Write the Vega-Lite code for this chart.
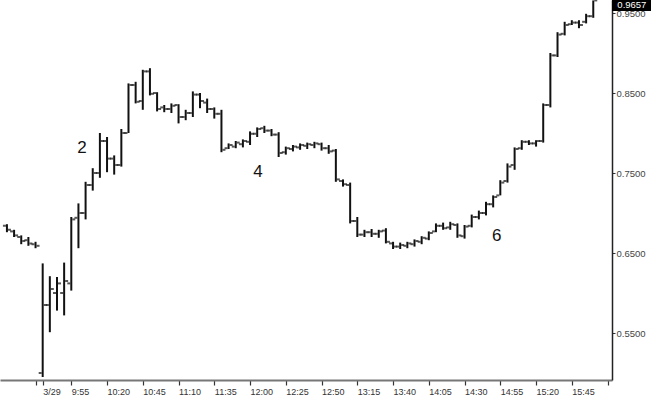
{
  "$schema": "https://vega.github.io/schema/vega-lite/v6.json",
  "width": 612,
  "height": 380,
  "autosize": {"type": "none"},
  "padding": {"left": 0, "top": 0, "right": 39, "bottom": 24},
  "background": "white",
  "config": {"view": {"stroke": null}, "font": "Liberation Sans"},
  "datasets": {
    "bars": [
      {"i": -5, "o": 0.684, "h": 0.686, "l": 0.676, "c": 0.679},
      {"i": -4, "o": 0.677, "h": 0.679, "l": 0.670, "c": 0.672},
      {"i": -3, "o": 0.670, "h": 0.672, "l": 0.661, "c": 0.665},
      {"i": -2, "o": 0.666, "h": 0.670, "l": 0.659, "c": 0.662},
      {"i": -1, "o": 0.661, "h": 0.664, "l": 0.656, "c": 0.659},
      {"i": 0, "o": 0.500, "h": 0.637, "l": 0.495, "c": 0.585},
      {"i": 1, "o": 0.585, "h": 0.621, "l": 0.551, "c": 0.605},
      {"i": 2, "o": 0.600, "h": 0.620, "l": 0.578, "c": 0.612},
      {"i": 3, "o": 0.600, "h": 0.638, "l": 0.572, "c": 0.615},
      {"i": 4, "o": 0.612, "h": 0.695, "l": 0.603, "c": 0.692},
      {"i": 5, "o": 0.694, "h": 0.712, "l": 0.656, "c": 0.700},
      {"i": 6, "o": 0.700, "h": 0.739, "l": 0.692, "c": 0.735},
      {"i": 7, "o": 0.735, "h": 0.756, "l": 0.728, "c": 0.750},
      {"i": 8, "o": 0.750, "h": 0.800, "l": 0.744, "c": 0.790},
      {"i": 9, "o": 0.790, "h": 0.795, "l": 0.751, "c": 0.768},
      {"i": 10, "o": 0.768, "h": 0.772, "l": 0.748, "c": 0.760},
      {"i": 11, "o": 0.760, "h": 0.805, "l": 0.758, "c": 0.800},
      {"i": 12, "o": 0.800, "h": 0.862, "l": 0.800, "c": 0.860},
      {"i": 13, "o": 0.860, "h": 0.864, "l": 0.837, "c": 0.839},
      {"i": 14, "o": 0.840, "h": 0.879, "l": 0.829, "c": 0.877},
      {"i": 15, "o": 0.877, "h": 0.881, "l": 0.847, "c": 0.849},
      {"i": 16, "o": 0.850, "h": 0.851, "l": 0.827, "c": 0.830},
      {"i": 17, "o": 0.832, "h": 0.835, "l": 0.826, "c": 0.830},
      {"i": 18, "o": 0.830, "h": 0.837, "l": 0.825, "c": 0.834},
      {"i": 19, "o": 0.835, "h": 0.836, "l": 0.812, "c": 0.820},
      {"i": 20, "o": 0.820, "h": 0.829, "l": 0.816, "c": 0.825},
      {"i": 21, "o": 0.825, "h": 0.852, "l": 0.820, "c": 0.848},
      {"i": 22, "o": 0.848, "h": 0.850, "l": 0.831, "c": 0.840},
      {"i": 23, "o": 0.838, "h": 0.843, "l": 0.825, "c": 0.830},
      {"i": 24, "o": 0.830, "h": 0.832, "l": 0.818, "c": 0.824},
      {"i": 25, "o": 0.824, "h": 0.829, "l": 0.776, "c": 0.779},
      {"i": 26, "o": 0.781, "h": 0.787, "l": 0.780, "c": 0.785},
      {"i": 27, "o": 0.783, "h": 0.790, "l": 0.781, "c": 0.788},
      {"i": 28, "o": 0.786, "h": 0.792, "l": 0.782, "c": 0.790},
      {"i": 29, "o": 0.789, "h": 0.802, "l": 0.785, "c": 0.799},
      {"i": 30, "o": 0.799, "h": 0.807, "l": 0.795, "c": 0.805},
      {"i": 31, "o": 0.806, "h": 0.809, "l": 0.800, "c": 0.803},
      {"i": 32, "o": 0.803, "h": 0.805, "l": 0.796, "c": 0.798},
      {"i": 33, "o": 0.798, "h": 0.801, "l": 0.770, "c": 0.775},
      {"i": 34, "o": 0.776, "h": 0.783, "l": 0.773, "c": 0.781},
      {"i": 35, "o": 0.780, "h": 0.785, "l": 0.777, "c": 0.783},
      {"i": 36, "o": 0.782, "h": 0.787, "l": 0.779, "c": 0.785},
      {"i": 37, "o": 0.784, "h": 0.788, "l": 0.780, "c": 0.786},
      {"i": 38, "o": 0.785, "h": 0.789, "l": 0.781, "c": 0.787},
      {"i": 39, "o": 0.786, "h": 0.788, "l": 0.778, "c": 0.781},
      {"i": 40, "o": 0.781, "h": 0.785, "l": 0.774, "c": 0.777},
      {"i": 41, "o": 0.778, "h": 0.780, "l": 0.739, "c": 0.742},
      {"i": 42, "o": 0.740, "h": 0.742, "l": 0.733, "c": 0.736},
      {"i": 43, "o": 0.735, "h": 0.738, "l": 0.687, "c": 0.690},
      {"i": 44, "o": 0.690, "h": 0.695, "l": 0.670, "c": 0.673},
      {"i": 45, "o": 0.673, "h": 0.679, "l": 0.670, "c": 0.676},
      {"i": 46, "o": 0.676, "h": 0.680, "l": 0.670, "c": 0.674},
      {"i": 47, "o": 0.674, "h": 0.679, "l": 0.669, "c": 0.677},
      {"i": 48, "o": 0.678, "h": 0.681, "l": 0.662, "c": 0.664},
      {"i": 49, "o": 0.662, "h": 0.664, "l": 0.655, "c": 0.658},
      {"i": 50, "o": 0.658, "h": 0.663, "l": 0.655, "c": 0.660},
      {"i": 51, "o": 0.659, "h": 0.664, "l": 0.656, "c": 0.662},
      {"i": 52, "o": 0.661, "h": 0.667, "l": 0.658, "c": 0.665},
      {"i": 53, "o": 0.664, "h": 0.671, "l": 0.661, "c": 0.669},
      {"i": 54, "o": 0.668, "h": 0.677, "l": 0.666, "c": 0.675},
      {"i": 55, "o": 0.677, "h": 0.687, "l": 0.676, "c": 0.684},
      {"i": 56, "o": 0.684, "h": 0.688, "l": 0.679, "c": 0.681},
      {"i": 57, "o": 0.682, "h": 0.689, "l": 0.679, "c": 0.686},
      {"i": 58, "o": 0.685, "h": 0.687, "l": 0.669, "c": 0.672},
      {"i": 59, "o": 0.671, "h": 0.685, "l": 0.668, "c": 0.683},
      {"i": 60, "o": 0.684, "h": 0.698, "l": 0.682, "c": 0.695},
      {"i": 61, "o": 0.695, "h": 0.703, "l": 0.692, "c": 0.700},
      {"i": 62, "o": 0.700, "h": 0.714, "l": 0.697, "c": 0.711},
      {"i": 63, "o": 0.711, "h": 0.722, "l": 0.707, "c": 0.720},
      {"i": 64, "o": 0.722, "h": 0.741, "l": 0.722, "c": 0.738},
      {"i": 65, "o": 0.740, "h": 0.762, "l": 0.738, "c": 0.758},
      {"i": 66, "o": 0.760, "h": 0.782, "l": 0.754, "c": 0.780},
      {"i": 67, "o": 0.781, "h": 0.791, "l": 0.779, "c": 0.789},
      {"i": 68, "o": 0.789, "h": 0.791, "l": 0.785, "c": 0.787},
      {"i": 69, "o": 0.787, "h": 0.791, "l": 0.783, "c": 0.790},
      {"i": 70, "o": 0.790, "h": 0.837, "l": 0.788, "c": 0.835},
      {"i": 71, "o": 0.835, "h": 0.900, "l": 0.832, "c": 0.897},
      {"i": 72, "o": 0.897, "h": 0.926, "l": 0.895, "c": 0.923},
      {"i": 73, "o": 0.924, "h": 0.939, "l": 0.922, "c": 0.935},
      {"i": 74, "o": 0.936, "h": 0.941, "l": 0.935, "c": 0.938},
      {"i": 75, "o": 0.938, "h": 0.941, "l": 0.931, "c": 0.935},
      {"i": 76, "o": 0.939, "h": 0.949, "l": 0.937, "c": 0.946},
      {"i": 77, "o": 0.946, "h": 0.9657, "l": 0.944, "c": 0.9657}
    ],
    "notes": [
      {"label": "2", "i": 5.5, "v": 0.781},
      {"label": "4", "i": 30.1, "v": 0.751},
      {"label": "6", "i": 63.5, "v": 0.671}
    ],
    "tag": [{"t": "0.9657"}]
  },
  "layer": [
    {
      "data": {"name": "bars"},
      "mark": {"type": "rule", "strokeWidth": 2, "color": "#111"},
      "encoding": {
        "x": {
          "field": "i", "type": "quantitative",
          "scale": {"domain": [-5.97, 79.62], "nice": false, "zero": false},
          "axis": {
            "values": [-1, 0, 4, 9, 14, 19, 24, 29, 34, 39, 44, 49, 54, 59, 64, 69, 74, 79],
            "tickCount": 60,
            "labelExpr": "datum.value == 0 ? '3/29' : (datum.value < 0 || datum.value > 74) ? '' : ['9:55','10:20','10:45','11:10','11:35','12:00','12:25','12:50','13:15','13:40','14:05','14:30','14:55','15:20','15:45'][round((datum.value - 4) / 5)]",
            "title": null, "grid": false,
            "domainColor": "#777", "domainWidth": 2,
            "tickColor": "#333", "tickSize": 5, "tickWidth": 1.2,
            "labelAlign": "left", "labelPadding": 2, "labelDx": 2,
            "labelFontSize": 9, "labelColor": "#333", "labelFont": "Liberation Sans",
            "labelOverlap": false
          }
        },
        "y": {
          "field": "l", "type": "quantitative",
          "scale": {"domain": [0.49125, 0.96625], "nice": false, "zero": false},
          "axis": {
            "orient": "right",
            "values": [0.55, 0.65, 0.75, 0.85, 0.95],
            "tickCount": 20,
            "format": ".4f", "title": null, "grid": false,
            "domainColor": "#222", "domainWidth": 1.5,
            "tickColor": "#333", "tickSize": 3,
            "labelPadding": 1, "labelFontSize": 9.5, "labelColor": "#444",
            "labelFont": "Liberation Sans", "labelOverlap": false, "labelBound": false, "labelFlush": false
          }
        },
        "y2": {"field": "h"}
      }
    },
    {
      "data": {"name": "bars"},
      "mark": {"type": "tick", "orient": "horizontal", "size": 3, "thickness": 2, "xOffset": -2.5, "color": "#111"},
      "encoding": {
        "x": {"field": "i", "type": "quantitative"},
        "y": {"field": "o", "type": "quantitative"}
      }
    },
    {
      "data": {"name": "bars"},
      "mark": {"type": "tick", "orient": "horizontal", "size": 3, "thickness": 2, "xOffset": 2.5, "color": "#111"},
      "encoding": {
        "x": {"field": "i", "type": "quantitative"},
        "y": {"field": "c", "type": "quantitative"}
      }
    },
    {
      "data": {"name": "notes"},
      "mark": {"type": "text", "fontSize": 17, "font": "Liberation Sans", "color": "#111", "align": "center", "baseline": "middle"},
      "encoding": {
        "x": {"field": "i", "type": "quantitative"},
        "y": {"field": "v", "type": "quantitative"},
        "text": {"field": "label"}
      }
    },
    {
      "data": {"name": "tag"},
      "mark": {"type": "rect", "color": "#000"},
      "encoding": {
        "x": {"datum": 79.62, "type": "quantitative"},
        "x2": {"datum": 85.2},
        "y": {"datum": 0.9665, "type": "quantitative"},
        "y2": {"datum": 0.9525}
      }
    },
    {
      "data": {"name": "tag"},
      "mark": {"type": "text", "color": "white", "fontSize": 9.5, "font": "Liberation Sans", "align": "center", "baseline": "middle"},
      "encoding": {
        "x": {"datum": 82.4, "type": "quantitative"},
        "y": {"datum": 0.9595, "type": "quantitative"},
        "text": {"field": "t"}
      }
    }
  ]
}
